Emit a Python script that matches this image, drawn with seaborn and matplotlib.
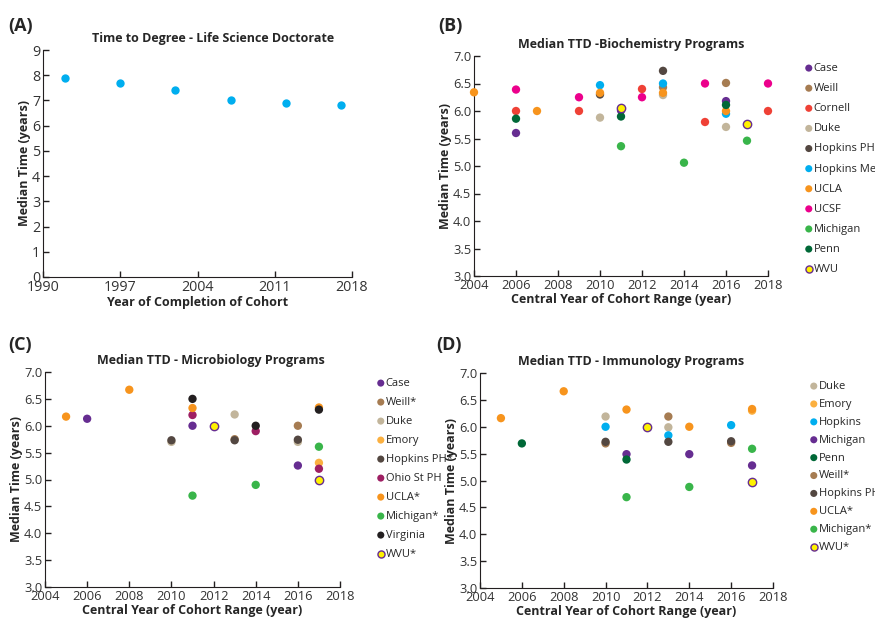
import numpy as np
import matplotlib
matplotlib.use("Agg")
import matplotlib.pyplot as plt
import seaborn as sns
from matplotlib.ticker import FormatStrFormatter

# ---- data ----
# (A) life science doctorate
a_year = [1992, 1997, 2002, 2007, 2012, 2017]
a_ttd = [7.9, 7.7, 7.4, 7.0, 6.9, 6.8]

# (B) biochemistry
b_order = ["Case", "Weill", "Cornell", "Duke", "Hopkins PH", "Hopkins Med",
           "UCLA", "UCSF", "Michigan", "Penn", "WVU"]
b_prog = ["UCLA",
          "UCSF", "Cornell", "Penn", "Case",
          "UCLA",
          "UCSF", "Cornell",
          "Hopkins Med", "Hopkins PH", "UCLA", "Duke",
          "Case", "WVU", "Penn", "Michigan",
          "Cornell", "UCSF",
          "Hopkins PH", "Hopkins Med", "Weill", "UCLA", "Duke",
          "Michigan",
          "UCSF", "Cornell",
          "Weill", "Case", "Penn", "UCLA", "Hopkins Med", "Duke",
          "WVU", "Michigan",
          "UCSF", "Cornell"]
b_year = [2004,
          2006, 2006, 2006, 2006,
          2007,
          2009, 2009,
          2010, 2010, 2010, 2010,
          2011, 2011, 2011, 2011,
          2012, 2012,
          2013, 2013, 2013, 2013, 2013,
          2014,
          2015, 2015,
          2016, 2016, 2016, 2016, 2016, 2016,
          2017, 2017,
          2018, 2018]
b_ttd = [6.34,
         6.39, 6.0, 5.86, 5.6,
         6.0,
         6.25, 6.0,
         6.47, 6.30, 6.33, 5.88,
         6.01, 6.05, 5.90, 5.36,
         6.40, 6.25,
         6.73, 6.50, 6.43, 6.33, 6.29,
         5.06,
         6.50, 5.80,
         6.51, 6.18, 6.11, 6.0, 5.95, 5.71,
         5.76, 5.46,
         6.50, 6.0]

# (C) microbiology
c_order = ["Case", "Weill*", "Duke", "Emory", "Hopkins PH*", "Ohio St PH",
           "UCLA*", "Michigan*", "Virginia", "WVU*"]
c_prog = ["UCLA*", "Case", "UCLA*",
          "Duke", "Hopkins PH*",
          "Virginia", "UCLA*", "Ohio St PH", "Case", "Michigan*",
          "WVU*",
          "Duke", "Weill*", "Hopkins PH*",
          "Virginia", "Ohio St PH", "Michigan*",
          "Weill*", "Duke", "Hopkins PH*", "Case",
          "UCLA*", "Virginia", "Michigan*", "Emory", "Ohio St PH", "WVU*"]
c_year = [2005, 2006, 2008,
          2010, 2010,
          2011, 2011, 2011, 2011, 2011,
          2012,
          2013, 2013, 2013,
          2014, 2014, 2014,
          2016, 2016, 2016, 2016,
          2017, 2017, 2017, 2017, 2017, 2017]
c_ttd = [6.17, 6.13, 6.67,
         5.70, 5.73,
         6.50, 6.33, 6.20, 6.0, 4.70,
         6.0,
         6.21, 5.75, 5.73,
         6.0, 5.90, 4.90,
         6.0, 5.70, 5.74, 5.26,
         6.34, 6.30, 5.61, 5.31, 5.20, 5.0]

# (D) immunology
d_order = ["Duke", "Emory", "Hopkins", "Michigan", "Penn", "Weill*",
           "Hopkins PH*", "UCLA*", "Michigan*", "WVU*"]
d_prog = ["UCLA*", "Penn", "UCLA*",
          "Duke", "Hopkins", "Weill*", "Hopkins PH*",
          "UCLA*", "Michigan", "Penn", "Michigan*",
          "WVU*",
          "Weill*", "Duke", "Hopkins", "Hopkins PH*",
          "UCLA*", "Michigan", "Michigan*",
          "Hopkins", "Weill*", "Hopkins PH*",
          "Emory", "UCLA*", "Michigan*", "Michigan", "WVU*"]
d_year = [2005, 2006, 2008,
          2010, 2010, 2010, 2010,
          2011, 2011, 2011, 2011,
          2012,
          2013, 2013, 2013, 2013,
          2014, 2014, 2014,
          2016, 2016, 2016,
          2017, 2017, 2017, 2017, 2017]
d_ttd = [6.16, 5.69, 6.66,
         6.19, 6.0, 5.69, 5.72,
         6.32, 5.49, 5.39, 4.69,
         6.0,
         6.19, 5.99, 5.84, 5.72,
         6.0, 5.49, 4.88,
         6.03, 5.70, 5.73,
         6.30, 6.33, 5.59, 5.28, 4.98]

colors = {
    "Case": "#662d91", "Weill": "#a67c52", "Weill*": "#a67c52",
    "Cornell": "#ef4136", "Duke": "#c2b59b", "Hopkins PH": "#534741",
    "Hopkins PH*": "#534741", "Hopkins Med": "#00aeef", "Hopkins": "#00aeef",
    "UCLA": "#f7941d", "UCLA*": "#f7941d", "UCSF": "#ec008c",
    "Michigan": "#39b54a", "Michigan*": "#39b54a", "Penn": "#006837",
    "WVU": "#fff200", "WVU*": "#fff200", "Emory": "#fbb040",
    "Ohio St PH": "#9e1f63", "Virginia": "#231f20",
}
d_colors = dict(colors, Michigan="#662d91")

sns.set_style("ticks")
plt.rcParams["font.family"] = ["Open Sans", "DejaVu Sans"]
plt.rcParams["axes.edgecolor"] = "#231f20"
plt.rcParams["xtick.color"] = "#231f20"
plt.rcParams["ytick.color"] = "#231f20"

fig = plt.figure(figsize=(8.75, 6.22), dpi=100)
W, H = 875, 622


def add_ax(x0, x1, ytop, ybot):
    return fig.add_axes([x0 / W, 1 - ybot / H, (x1 - x0) / W, (ybot - ytop) / H])


def style(ax, title, xlabel, tx, fs=9.3):
    sns.despine(ax=ax)
    ax.tick_params(direction="in", length=4, width=1, labelsize=fs, pad=2,
                   labelcolor="#333333")
    ax.set_title(title, fontsize=9, fontweight="bold", pad=6, x=tx)
    ax.set_xlabel(xlabel, fontsize=9, fontweight="bold", labelpad=1)
    ax.set_ylabel("Median Time (years)", fontsize=9, fontweight="bold", labelpad=1)


def panel(ax, order, prog, year, ttd, pal, legend_xy, spacing):
    prog = np.array(prog)
    year = np.array(year)
    ttd = np.array(ttd)
    for name in order:
        m = prog == name
        wvu = name.startswith("WVU")
        sns.scatterplot(x=year[m], y=ttd[m], color=pal[name], s=36,
                        edgecolor="#662d91" if wvu else "none",
                        linewidth=1.0 if wvu else 0, label=name,
                        clip_on=False, zorder=3, ax=ax)
    ax.set_xlim(2004, 2018)
    ax.set_ylim(3, 7)
    ax.set_xticks(range(2004, 2019, 2))
    ax.set_yticks(np.arange(3, 7.01, 0.5))
    ax.yaxis.set_major_formatter(FormatStrFormatter("%.1f"))
    ax.legend(loc="upper left", bbox_to_anchor=legend_xy,
              bbox_transform=fig.transFigure, frameon=False, fontsize=8,
              handlelength=0.5, handletextpad=0.2, borderpad=0,
              borderaxespad=0, labelspacing=spacing, markerscale=0.85)


# (A)
axA = add_ax(43, 352, 50, 277)
sns.scatterplot(x=a_year, y=a_ttd, color="#00aeef", s=36, linewidth=0,
                clip_on=False, ax=axA)
axA.set_xlim(1990, 2018)
axA.set_ylim(0, 9)
axA.set_xticks(range(1990, 2019, 7))
axA.set_yticks(range(0, 10))
style(axA, "Time to Degree - Life Science Doctorate",
      "Year of Completion of Cohort", 0.549, fs=10.3)

# (B)
axB = add_ax(474, 768, 56, 276)
panel(axB, b_order, b_prog, b_year, b_ttd, colors, (806 / W, 1 - 63 / H), 0.82)
style(axB, "Median TTD -Biochemistry Programs",
      "Central Year of Cohort Range (year)", 0.534)

# (C)
axC = add_ax(45, 340, 372, 587)
panel(axC, c_order, c_prog, c_year, c_ttd, colors, (378 / W, 1 - 378 / H), 0.72)
style(axC, "Median TTD - Microbiology Programs",
      "Central Year of Cohort Range (year)", 0.561)

# (D)
axD = add_ax(480, 773, 373, 588)
panel(axD, d_order, d_prog, d_year, d_ttd, d_colors, (811 / W, 1 - 381 / H), 0.62)
style(axD, "Median TTD - Immunology Programs",
      "Central Year of Cohort Range (year)", 0.514)

for lbl, x, y in [("(A)", 8, 31), ("(B)", 438, 31), ("(C)", 8, 350), ("(D)", 436, 350)]:
    fig.text(x / W, 1 - y / H, lbl, fontsize=13, fontweight="bold")

fig.savefig("out.png", dpi=100)
